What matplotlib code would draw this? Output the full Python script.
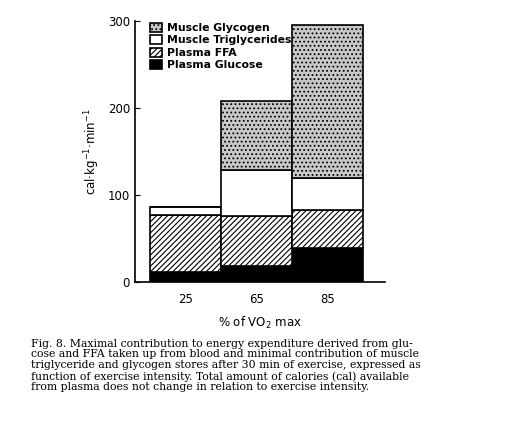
import matplotlib.pyplot as plt
import numpy as np

intensity = ['25', '65', '85']
plasma_glucose = [11, 18, 39]
plasma_ffa = [66, 58, 44]
muscle_tg = [9, 53, 37]
muscle_glycogen = [0, 79, 175]

plt.rcParams['font.family'] = ['DejaVu Sans']
plt.rcParams['hatch.linewidth'] = 0.8

fig = plt.figure(figsize=(5.13, 4.26), dpi=100)
ax = fig.add_axes([0.263, 0.338, 0.487, 0.613])

x = np.arange(len(intensity))
b1 = np.array(plasma_glucose)
b2 = b1 + np.array(plasma_ffa)
b3 = b2 + np.array(muscle_tg)
kw = dict(width=1.0, edgecolor='black', linewidth=1.2)
p1 = ax.bar(x, plasma_glucose, color='black', **kw)
p2 = ax.bar(x, plasma_ffa, bottom=b1, color='white', hatch='//////', **kw)
p3 = ax.bar(x, muscle_tg, bottom=b2, color='white', **kw)
p4 = ax.bar(x, muscle_glycogen, bottom=b3, color='#c8c8c8', hatch='....', **kw)

ax.set_xlim(-0.71, 2.81)
ax.set_ylim(0, 300)
ax.set_yticks([0, 100, 200, 300])
ax.set_xticks(x)
ax.set_xticklabels(intensity, fontsize=8.5)
ax.tick_params(axis='y', labelsize=8.5, direction='in')
ax.tick_params(axis='x', length=0, pad=8)
for s in ['top', 'right']:
    ax.spines[s].set_visible(False)
ax.spines['left'].set_linewidth(1.2)
ax.spines['bottom'].set_linewidth(1.2)
ax.set_ylabel('cal·kg$^{-1}$·min$^{-1}$', fontsize=8.5)
ax.set_xlabel('% of VO$_2$ max', fontsize=8.5, labelpad=6)

leg = ax.legend([p4, p3, p2, p1],
                ['Muscle Glycogen', 'Muscle Triglycerides', 'Plasma FFA', 'Plasma Glucose'],
                loc='upper left', bbox_to_anchor=(0.02, 1.03), frameon=False,
                handlelength=1.1, handleheight=0.9, labelspacing=0.2, handletextpad=0.5,
                prop={'weight': 'bold', 'size': 7.8})

caption = ("Fig. 8. Maximal contribution to energy expenditure derived from glu-\n"
           "cose and FFA taken up from blood and minimal contribution of muscle\n"
           "triglyceride and glycogen stores after 30 min of exercise, expressed as\n"
           "function of exercise intensity. Total amount of calories (cal) available\n"
           "from plasma does not change in relation to exercise intensity.")
fig.text(0.06, 0.205, caption, family='DejaVu Serif', fontsize=7.8, va='top',
         linespacing=1.1)

plt.savefig('out.png', dpi=100)
